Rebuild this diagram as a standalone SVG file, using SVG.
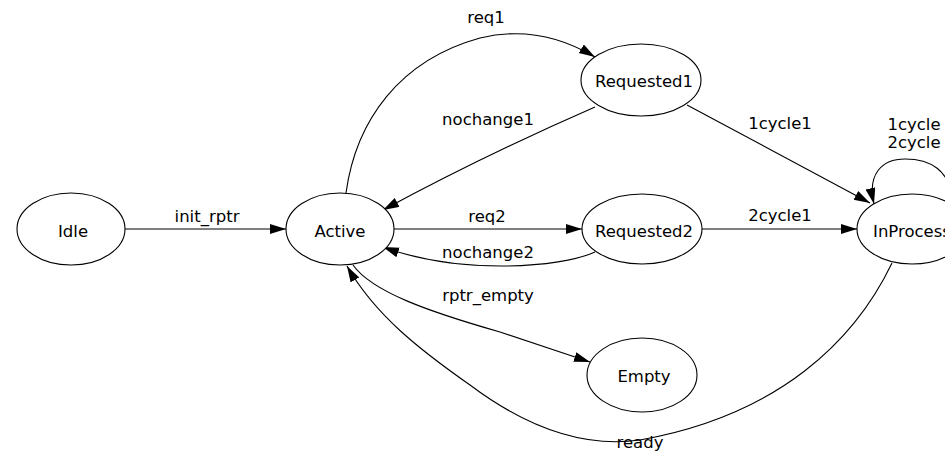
<svg xmlns="http://www.w3.org/2000/svg" width="945" height="451" viewBox="0 0 945 451">
<defs>
<marker id="arr" markerUnits="userSpaceOnUse" markerWidth="17" markerHeight="11" refX="16" refY="5" orient="auto">
<path d="M0,0 L16,5 L0,10 z" fill="#000"/>
</marker>
<style>
.node ellipse{fill:#fff;stroke:#000;stroke-width:1.1}
.node text,.lbl{font-family:"DejaVu Sans",Verdana,sans-serif;font-size:16.5px;fill:#000;text-anchor:middle}
.edge{fill:none;stroke:#000;stroke-width:1.1;marker-end:url(#arr)}
</style>
</defs>
<rect width="945" height="451" fill="#fff"/>
<g id="connectors">
<path class="edge" d="M125,229 L286,229"/>
<path class="edge" d="M346,193 C356,120 400,60 480,38 C530,26 570,42 595,57"/>
<path class="edge" d="M595,107 Q485,155 383,210"/>
<path class="edge" d="M687,105 L870,203"/>
<path class="edge" d="M393,229 L582,229"/>
<path class="edge" d="M595,252 C560,268 460,275 383,247"/>
<path class="edge" d="M702,229 L857,229"/>
<path class="edge" d="M353,265 C372,292 430,312 500,332 L590,362"/>
<path class="edge" d="M892,263 C855,340 780,415 640,440 C570,450 510,415 470,385 C420,350 375,315 347,266"/>
<path class="edge" d="M952,200 C950,170 930,159 905,159 C882,159 867,174 874,204"/>
<text class="lbl" x="207" y="222">init_rptr</text>
<text class="lbl" x="486" y="23">req1</text>
<text class="lbl" x="488" y="125">nochange1</text>
<text class="lbl" x="780" y="129">1cycle1</text>
<text class="lbl" x="487" y="222">req2</text>
<text class="lbl" x="488" y="258">nochange2</text>
<text class="lbl" x="780" y="221">2cycle1</text>
<text class="lbl" x="488" y="301">rptr_empty</text>
<text class="lbl" x="640" y="448">ready</text>
<text class="lbl" x="914" y="130">1cycle</text>
<text class="lbl" x="914" y="148">2cycle</text>
</g>
<g id="Idle" class="node"><ellipse cx="71" cy="229" rx="54" ry="36"/><text x="73" y="237">Idle</text></g>
<g id="Active" class="node"><ellipse cx="340" cy="229" rx="54" ry="36"/><text x="340" y="237">Active</text></g>
<g id="Requested1" class="node"><ellipse cx="641" cy="80" rx="60" ry="36"/><text x="644" y="87">Requested1</text></g>
<g id="Requested2" class="node"><ellipse cx="642" cy="229" rx="60" ry="35"/><text x="644" y="237">Requested2</text></g>
<g id="Empty" class="node"><ellipse cx="642" cy="375" rx="55" ry="37"/><text x="644" y="382">Empty</text></g>
<g id="InProcess" class="node"><ellipse cx="912" cy="229" rx="55" ry="35"/><text x="912" y="237">InProcess</text></g>
</svg>
